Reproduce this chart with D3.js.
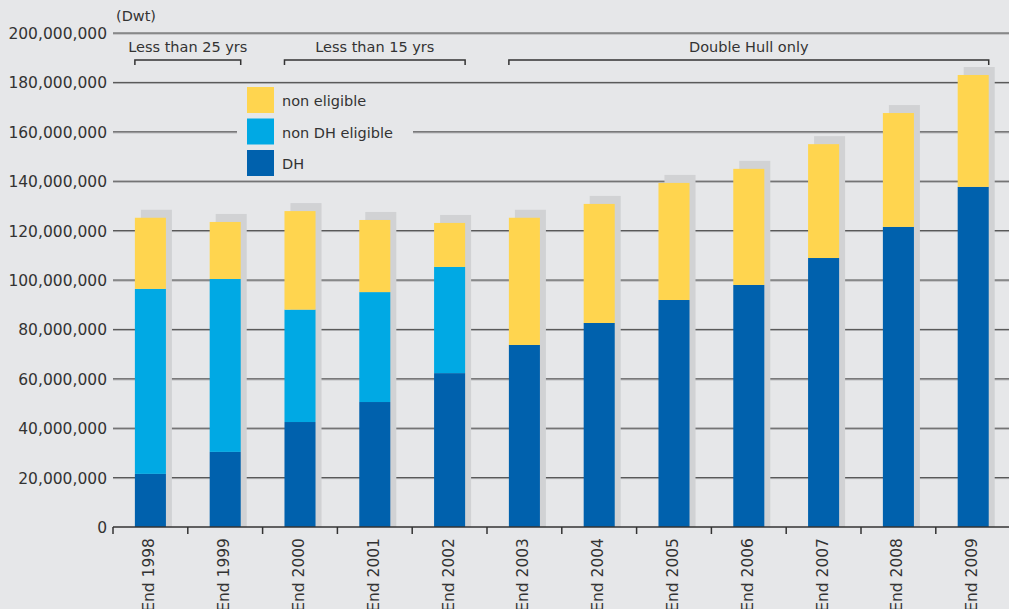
<!DOCTYPE html>
<html>
<head>
<meta charset="utf-8">
<script src="https://cdn.jsdelivr.net/npm/d3@7"></script>
<style>
  body { margin: 0; background: #e6e7e9; }
  svg { display: block; font-family: "DejaVu Sans", sans-serif; }
</style>
</head>
<body>
<div id="chart"></div>
<script>
(function(){

const width = 1009;
const height = 609;
const margin = {top:33, bottom:82, left:113};
const step = 74.8;

// data (Dwt)
const years = ["End 1998","End 1999","End 2000","End 2001","End 2002","End 2003",
               "End 2004","End 2005","End 2006","End 2007","End 2008","End 2009"];
const dh          = [21.5e6, 30.4e6, 42.5e6, 50.6e6, 62.3e6, 73.7e6, 82.6e6, 91.9e6, 98.0e6, 108.9e6, 121.5e6, 137.7e6];
const nonDhElig   = [74.9e6, 70.0e6, 45.5e6, 44.5e6, 43.0e6, 0, 0, 0, 0, 0, 0, 0];
const nonEligible = [28.8e6, 23.1e6, 39.9e6, 29.2e6, 17.8e6, 51.5e6, 48.2e6, 47.4e6, 47.0e6, 46.1e6, 46.1e6, 45.3e6];
const yTicks = [0, 20e6, 40e6, 60e6, 80e6, 100e6, 120e6, 140e6, 160e6, 180e6, 200e6];
const seriesNames = ["non eligible", "non DH eligible", "DH"];
const periods = [
  {label:"Less than 25 yrs", from:"End 1998", to:"End 1999"},
  {label:"Less than 15 yrs", from:"End 2000", to:"End 2002"},
  {label:"Double Hull only", from:"End 2003", to:"End 2009"}
];

const colors = {"DH":"#0061ad", "non DH eligible":"#00a9e4", "non eligible":"#ffd54f"};
const textColor = "#333";

const data = years.map((y,i) => ({year:y, "DH":dh[i], "non DH eligible":nonDhElig[i], "non eligible":nonEligible[i]}));
const total = d => d["DH"] + d["non DH eligible"] + d["non eligible"];

const svg = d3.select("#chart")
  .append("svg")
  .attr("width", width)
  .attr("height", height);

const x = d3.scaleBand()
  .domain(years)
  .range([margin.left, margin.left + step * years.length])
  .paddingInner(0.585)
  .paddingOuter(0.2925);

const y = d3.scaleLinear()
  .domain([0, 200e6])
  .range([height - margin.bottom, margin.top]);

// gridlines
const grid = svg.append("g");
yTicks.filter(d => d > 0).forEach(t => {
  grid.append("line")
    .attr("x1", margin.left).attr("x2", width)
    .attr("y1", y(t) + 1).attr("y2", y(t) + 1)
    .attr("stroke", "#a5a6a8").attr("stroke-width", 1);
  grid.append("line")
    .attr("x1", margin.left).attr("x2", width)
    .attr("y1", y(t)).attr("y2", y(t))
    .attr("stroke", "#4a4a4a").attr("stroke-width", 1);
});

// y tick labels
svg.append("g")
  .selectAll("text")
  .data(yTicks)
  .enter()
  .append("text")
  .attr("x", margin.left - 6)
  .attr("y", d => y(d) + 6)
  .attr("text-anchor", "end")
  .style("font-size", "15.5px")
  .attr("fill", textColor)
  .text(d => d3.format(",")(d));

svg.append("text")
  .attr("x", 116)
  .attr("y", 21)
  .style("font-size", "14.5px")
  .attr("fill", textColor)
  .text("(Dwt)");

// stacked bars
const stack = d3.stack().keys(["DH", "non DH eligible", "non eligible"]);
const layers = stack(data);

// shadows behind bars
svg.append("g")
  .selectAll("rect")
  .data(data)
  .enter()
  .append("rect")
  .attr("x", d => x(d.year) + 6)
  .attr("y", d => y(total(d)) - 8)
  .attr("width", x.bandwidth())
  .attr("height", d => y(0) - y(total(d)) + 8)
  .attr("fill", "#d1d2d4");

svg.append("g")
  .selectAll("g")
  .data(layers)
  .enter()
  .append("g")
  .attr("fill", d => colors[d.key])
  .selectAll("rect")
  .data(d => d)
  .enter()
  .append("rect")
  .attr("x", d => x(d.data.year))
  .attr("y", d => y(d[1]))
  .attr("width", x.bandwidth())
  .attr("height", d => y(d[0]) - y(d[1]));

// x axis
const xAxis = svg.append("g")
  .attr("transform", `translate(0,${y(0)})`);
xAxis.append("line")
  .attr("x1", margin.left).attr("x2", width)
  .attr("stroke", "#333").attr("stroke-width", 1.5);
xAxis.selectAll(".tk")
  .data(d3.range(years.length + 1))
  .enter()
  .append("line")
  .attr("x1", i => margin.left + i * x.step())
  .attr("x2", i => margin.left + i * x.step())
  .attr("y1", 0).attr("y2", 7)
  .attr("stroke", "#333")
  .attr("stroke-width", 1.5);
xAxis.selectAll(".lbl")
  .data(years)
  .enter()
  .append("text")
  .attr("transform", d => `translate(${x(d) + x.bandwidth()/2 + 4},11) rotate(-90)`)
  .attr("text-anchor", "end")
  .style("font-size", "15.5px")
  .attr("fill", textColor)
  .text(d => d);

// period brackets
const br = svg.append("g");
periods.forEach(p => {
  const x1 = x(p.from), x2 = x(p.to) + x.bandwidth();
  br.append("path")
    .attr("d", `M${x1},65V60H${x2}V65`)
    .attr("fill", "none")
    .attr("stroke", "#333")
    .attr("stroke-width", 1.5);
  br.append("text")
    .attr("x", (x1 + x2) / 2)
    .attr("y", 52)
    .attr("text-anchor", "middle")
    .style("font-size", "14.5px")
    .attr("fill", textColor)
    .text(p.label);
});

// legend
const lg = svg.append("g");
lg.append("rect")
  .attr("x", 237).attr("y", 84)
  .attr("width", 176).attr("height", 94)
  .attr("fill", "#e6e7e9");
const items = lg.selectAll(".item")
  .data(seriesNames)
  .enter()
  .append("g")
  .attr("transform", (d,i) => `translate(247,${87 + i*31.5})`);
items.append("rect")
  .attr("width", 27).attr("height", 26)
  .attr("fill", d => colors[d]);
items.append("text")
  .attr("x", 35).attr("y", 19)
  .style("font-size", "14.5px")
  .attr("fill", textColor)
  .text(d => d);

})();
</script>
</body>
</html>
